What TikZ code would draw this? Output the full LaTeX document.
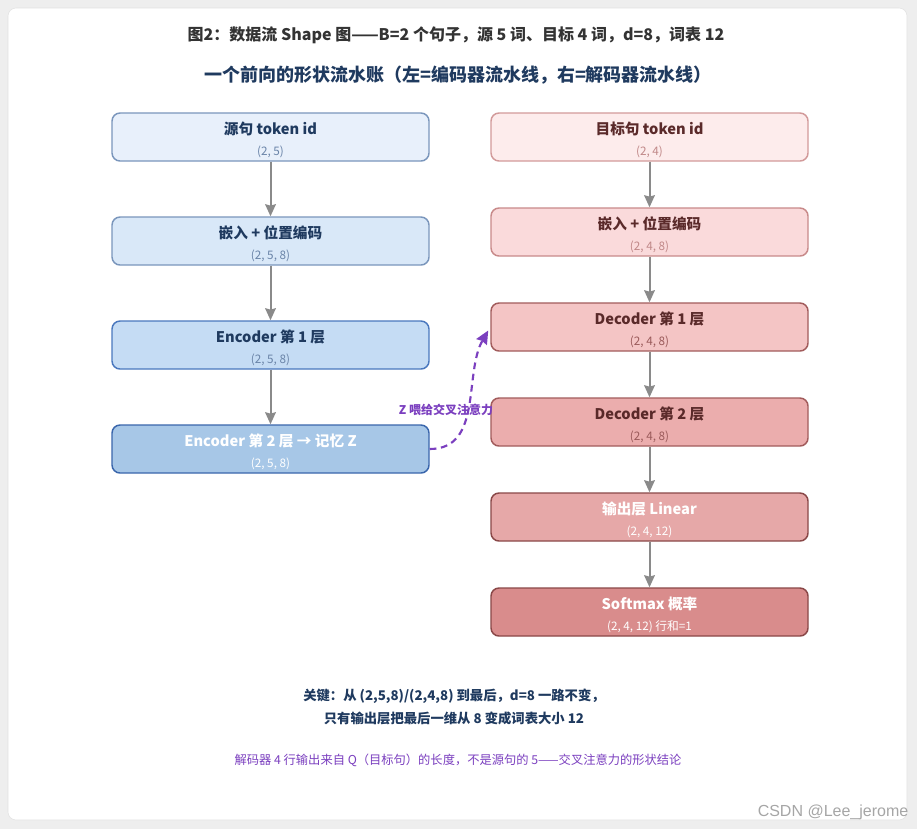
\documentclass[tikz,border=0pt]{standalone}
\usepackage{fontspec}
\setmainfont{Noto Sans CJK SC}
\newfontfamily\wmfont{Liberation Sans}
\usetikzlibrary{positioning, arrows.meta}

\definecolor{pagegray}{HTML}{EEEEEE}
\definecolor{cardline}{HTML}{E2E2E2}
\definecolor{navy}{HTML}{1F3A5F}
\definecolor{titlegray}{HTML}{333333}
\definecolor{flowgray}{HTML}{8A8A8A}
\definecolor{zpurple}{HTML}{7B3FBF}
% encoder column
\definecolor{srcfill}{HTML}{E8F0FB}
\definecolor{srcline}{HTML}{7A96BC}
\definecolor{embLfill}{HTML}{D9E8F8}
\definecolor{encAfill}{HTML}{C5DCF4}
\definecolor{encAline}{HTML}{4A78BE}
\definecolor{encBfill}{HTML}{A7C7E7}
\definecolor{encBline}{HTML}{3A66AC}
\definecolor{lsub}{HTML}{6A84A8}
% decoder column
\definecolor{tgtfill}{HTML}{FDECEC}
\definecolor{tgtline}{HTML}{D29A9A}
\definecolor{embRfill}{HTML}{FADADB}
\definecolor{embRline}{HTML}{C88A8A}
\definecolor{decAfill}{HTML}{F4C5C5}
\definecolor{decAline}{HTML}{A25C5C}
\definecolor{decBfill}{HTML}{EBADAD}
\definecolor{outfill}{HTML}{E6A8A8}
\definecolor{smfill}{HTML}{D98C8C}
\definecolor{smline}{HTML}{8A4848}
\definecolor{rtext}{HTML}{5A2A2A}
\definecolor{rsub}{HTML}{C08888}
\definecolor{rsubdark}{HTML}{9A5A5A}

\newcommand{\lay}[3]{{\fontsize{11}{12}\selectfont\bfseries\rule{0pt}{14pt}#1}\\[3.5pt]{\fontsize{8.8}{10}\selectfont\color{#3}#2}}

\tikzset{
  blk/.style={draw, line width=1.1pt, rounded corners=6pt, minimum width=237.75pt,
    minimum height=36pt, align=center, inner sep=0pt},
  flow/.style={-{Stealth[length=9pt,width=8pt,inset=1pt]}, flowgray, line width=1.5pt},
  feed/.style={-{Stealth[length=10pt,width=9pt,inset=1pt]}, zpurple, line width=1.6pt,
    dash pattern=on 5pt off 3.5pt}
}

\begin{document}
\begin{tikzpicture}[x=0.75pt,y=-0.75pt,node distance=78pt,on grid]
    \fill[pagegray] (0,0) rectangle (917,829);
    \filldraw[fill=white, draw=cardline, rounded corners=6pt] (8,8) rectangle (907,820);
    \useasboundingbox (0,0) rectangle (917,829);

    \node[text=titlegray, font=\fontsize{12}{13}\selectfont\bfseries] (cap) at (456,35)
        {图2：数据流 Shape 图——B=2 个句子，源 5 词、目标 4 词，d=8，词表 12};
    \node[text=navy, font=\fontsize{13.5}{15}\selectfont\bfseries] (head) at (458,75)
        {一个前向的形状流水账（左=编码器流水线，右=解码器流水线）};

    % encoder side
    \node[blk, fill=srcfill, draw=srcline, text=navy] (src) at (270.5,137)
        {\lay{源句 token id}{(2, 5)}{lsub}};
    \node[blk, fill=embLfill, draw=srcline, text=navy] (embL) [below=of src]
        {\lay{嵌入 + 位置编码}{(2, 5, 8)}{lsub}};
    \node[blk, fill=encAfill, draw=encAline, text=navy] (encA) [below=of embL]
        {\lay{Encoder 第 1 层}{(2, 5, 8)}{lsub}};
    \node[blk, fill=encBfill, draw=encBline, text=white] (encB) [below=of encA]
        {\lay{Encoder 第 2 层 → 记忆 Z}{(2, 5, 8)}{white}};

    % decoder side
    \node[blk, fill=tgtfill, draw=tgtline, text=rtext] (tgt) at (649.5,137)
        {\lay{目标句 token id}{(2, 4)}{rsub}};
    \node[blk, fill=embRfill, draw=embRline, text=rtext] (embR) [below=71.25pt of tgt]
        {\lay{嵌入 + 位置编码}{(2, 4, 8)}{rsub}};
    \node[blk, fill=decAfill, draw=decAline, text=rtext] (decA) [below=71.25pt of embR]
        {\lay{Decoder 第 1 层}{(2, 4, 8)}{rsubdark}};
    \node[blk, fill=decBfill, draw=decAline, text=rtext] (decB) [below=71.25pt of decA]
        {\lay{Decoder 第 2 层}{(2, 4, 8)}{rsubdark}};
    \node[blk, fill=outfill, draw=smline, text=white] (out) [below=71.25pt of decB]
        {\lay{输出层 Linear}{(2, 4, 12)}{white}};
    \node[blk, fill=smfill, draw=smline, text=white] (soft) [below=71.25pt of out]
        {\lay{Softmax 概率}{(2, 4, 12) 行和=1}{white}};

    \path[flow]
    (src) edge (embL)
    (embL) edge (encA)
    (encA) edge (encB)
    (tgt) edge (embR)
    (embR) edge (decA)
    (decA) edge (decB)
    (decB) edge (out)
    (out) edge (soft)
    ;

    \draw[feed, shorten >=3pt] (encB.east) to[out=0, in=240] (decA.west);
    \node[text=zpurple, font=\fontsize{9}{10}\selectfont\bfseries] (zlab) at (446,410)
        {Z 喂给交叉注意力};

    % notes
    \node[text=navy, font=\fontsize{10}{12}\selectfont\bfseries, align=center] (key) at (454,707)
        {关键：从 (2,5,8)/(2,4,8) 到最后，d=8 一路不变，\\[5pt]只有输出层把最后一维从 8 变成词表大小 12};
    \node[text=zpurple, font=\fontsize{9.2}{10}\selectfont] (note) at (458,760)
        {解码器 4 行输出来自 Q（目标句）的长度，不是源句的 5——交叉注意力的形状结论};
    \node[text=black!35, font=\wmfont\fontsize{12}{13}\selectfont, anchor=east] (mark) at (913,812)
        {CSDN @Lee\_jerome};
\end{tikzpicture}
\end{document}
